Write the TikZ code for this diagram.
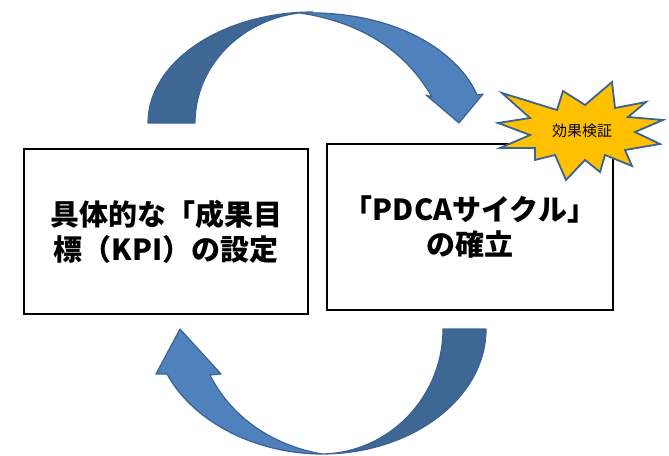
\documentclass[tikz,border=0pt]{standalone}
\usepackage{fontspec}
\newfontfamily\jpfont{Noto Sans CJK JP}
\definecolor{darkblue}{HTML}{3F6796}
\definecolor{lightblue}{HTML}{4F81BD}
\definecolor{edgeblue}{HTML}{3A6391}
\definecolor{burstyellow}{HTML}{FFC000}
\usetikzlibrary{positioning}

\begin{document}
\begin{tikzpicture}[x=1pt, y=-1pt,
	every node/.append style={inner sep=0pt},
	textbox/.style={shape=rectangle, draw=black, line width=2.5pt,
		align=center, font=\jpfont\bfseries\fontsize{29}{35}\selectfont},
	band/.style={draw=edgeblue, line width=1.2pt, line join=round}]

	\useasboundingbox (0,0) rectangle (669,455);

	\node[textbox, minimum width=284pt, minimum height=165pt] at (166, 231.5) (goal){具体的な「成果目\\標（KPI）の設定};
	\node[textbox, minimum width=286pt, minimum height=166pt] at (470, 227) (pdca){「PDCAサイクル」\\の確立};

	\filldraw[band, fill=lightblue] (300,13) .. controls (400,10) and (460,55) .. (477,95) -- (483,94) -- (459,123) -- (426,95) -- (432,97) .. controls (405,50) and (360,22) .. (300,13) -- cycle;
	\filldraw[band, fill=darkblue] (148,123) .. controls (148,62) and (222,12) .. (313,12) .. controls (248,13) and (195,62) .. (195,123) -- cycle;

	\filldraw[band, fill=lightblue] (322,454) .. controls (260,454) and (195,425) .. (167,374) -- (156,374) -- (180,329) -- (221,374) -- (210,375) .. controls (230,415) and (270,445) .. (322,454) -- cycle;
	\filldraw[band, fill=darkblue] (443,329) -- (486,329) .. controls (486,398) and (412,454) .. (322,454) .. controls (389,453) and (443,397) .. (443,329) -- cycle;

	\filldraw[draw=edgeblue, line width=1.8pt, fill=burstyellow] (502,93) -- (557,110) -- (563,91) -- (585,105) -- (612,82) -- (615,108) -- (646,102) -- (628,117) -- (663,120) -- (635,132) -- (660,144) -- (625,150) -- (632,166) -- (605,155) -- (600,172) -- (585,160) -- (566,180) -- (555,155) -- (535,160) -- (535,148) -- (500,148) -- (530,135) -- (498,123) -- (530,118) -- cycle;
	\node[font=\jpfont\fontsize{15}{18}\selectfont] at (582, 131) (check){効果検証};
\end{tikzpicture}
\end{document}
